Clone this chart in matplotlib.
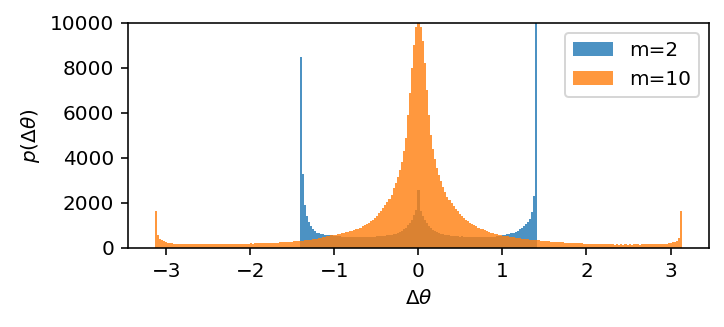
#!/usr/bin/env python3
"""
Histogramas de la diferencia de fase Δθ para m=2 y m=10.
"""

import numpy as np
import matplotlib
matplotlib.use("Agg")
import matplotlib.pyplot as plt


# Cuentas por bin, m=2 (bins uniformes en [-sqrt(2), sqrt(2)])
counts_m2 = [
    8500, 3300, 1900, 1400, 1150, 950, 820, 730, 680, 650,
    620, 600, 585, 575, 565, 550, 540, 530, 520, 510,
    500, 490, 485, 480, 490, 475, 480, 470, 485, 475,
    480, 480, 490, 485, 495, 500, 505, 510, 520, 530,
    540, 545, 555, 570, 580, 600, 630, 670, 710, 760,
    820, 900, 1000, 1120, 1250, 1450, 1700,
    2550,
    1650, 1400, 1230, 1100, 980, 890, 810, 750, 700, 660,
    625, 600, 580, 565, 555, 540, 530, 520, 515, 505,
    510, 500, 495, 500, 490, 485, 490, 480, 478, 475,
    480, 474, 470, 480, 485, 490, 500, 510, 520, 533,
    550, 570, 595, 620, 650, 680, 720, 770, 830, 890,
    960, 1050, 1150, 1300, 1600, 2300, 12000,
]

# Cuentas por bin, m=10 (bins uniformes en [-pi, pi])
counts_m10 = [
    1650, 560, 390, 330, 290, 250, 230, 215, 200, 190,
    175, 170, 165, 160, 170, 160, 155, 165, 160, 150,
    155, 160, 150, 165, 155, 160, 150, 160, 165, 155,
    160, 165, 155, 170, 160, 165, 170, 160, 175, 170,
    180, 175, 185, 180, 190, 185, 195, 190, 200, 195,
    205, 200, 210, 215, 210, 220, 225, 220, 230, 235,
    240, 245, 250, 255, 260, 270, 275, 285, 290, 300,
    310, 320, 330, 340, 355, 365, 380, 395, 410, 430,
    450, 470, 490, 510, 530, 555, 575, 590, 610, 630,
    650, 670, 690, 710, 730, 760, 790, 820, 860, 900,
    950, 1000, 1060, 1120, 1190, 1260, 1340, 1430, 1530, 1640,
    1760, 1890, 2030, 2180, 2340, 2650, 2900, 3150, 3450, 3800,
    4300, 4900, 5900, 6900, 8000, 9000, 9800,
    11000,
    9800, 9200, 8200, 7000, 5900, 5000, 4400, 3950, 3550, 3250,
    2950, 2700, 2480, 2280, 2120, 1980, 1850, 1730, 1620, 1510,
    1420, 1340, 1260, 1190, 1120, 1060, 1000, 950, 900, 860,
    820, 780, 750, 710, 680, 650, 620, 600, 580, 560,
    540, 530, 510, 500, 480, 470, 455, 440, 425, 410,
    400, 390, 380, 370, 360, 350, 340, 330, 320, 310,
    300, 295, 285, 280, 270, 265, 255, 250, 245, 240,
    235, 230, 225, 220, 215, 210, 205, 200, 195, 190,
    190, 185, 180, 175, 175, 170, 165, 165, 160, 160,
    155, 150, 155, 150, 145, 150, 145, 150, 145, 150,
    145, 150, 145, 150, 155, 150, 145, 155, 150, 155,
    150, 160, 155, 160, 165, 160, 170, 175, 180, 190,
    210, 230, 250, 280, 320, 420, 1650,
]

labels = ["m=2", "m=10"]
ranges = [(-np.sqrt(2), np.sqrt(2)), (-np.pi, np.pi)]


def plot_hist(ax, counts, lo, hi, label):
    """Dibuja un histograma a partir de las cuentas de cada bin."""
    edges = np.linspace(lo, hi, len(counts) + 1)
    centers = 0.5 * (edges[:-1] + edges[1:])
    ax.hist(centers, bins=edges, weights=counts, alpha=0.8,
            histtype='stepfilled', label=label)


def main():
    fig = plt.figure(figsize=(724 / 144, 327 / 144), dpi=144)
    ax = fig.add_subplot(111)
    fig.subplots_adjust(left=0.177, right=0.979, top=0.930, bottom=0.242)

    for counts, (lo, hi), label in zip([counts_m2, counts_m10], ranges, labels):
        plot_hist(ax, counts, lo, hi, label)

    ax.set_ylim(0, 10000)
    ax.set_xlabel(r'$\Delta\theta$')
    ax.set_ylabel(r'$p(\Delta\theta)$')
    ax.legend(loc='upper right')

    fig.savefig("out.png", dpi=144)


if __name__ == "__main__":
    main()
